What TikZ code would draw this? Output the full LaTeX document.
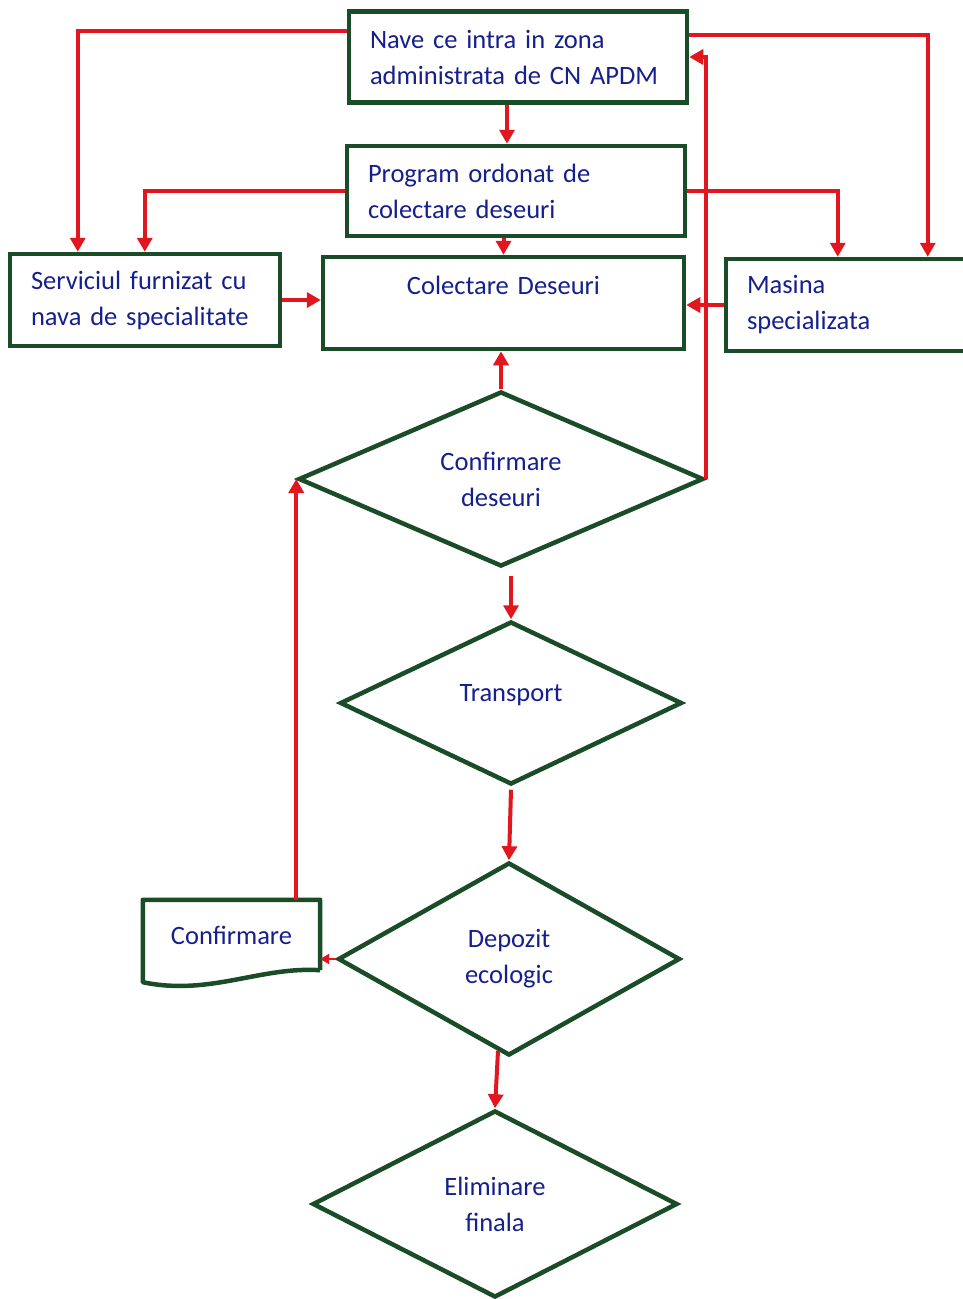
\documentclass[tikz,border=0pt]{standalone}
\usepackage{fontspec}
\setmainfont{Carlito}
\usetikzlibrary{shapes.geometric}
\usetikzlibrary{arrows.meta}
\usetikzlibrary{calc}

\definecolor{boxgreen}{RGB}{26,76,40}
\definecolor{arrowred}{RGB}{226,22,30}
\definecolor{textblue}{RGB}{22,32,140}

\begin{document}
\begin{tikzpicture}[x=1pt, y=-1pt, >={Triangle[length=14pt,width=15pt]},
  box/.style={rectangle, draw=boxgreen, line width=4.5pt, align=left, inner xsep=21pt,
    text=textblue, font=\fontsize{26.5}{36}\selectfont},
  dia/.style={diamond, draw=boxgreen, line width=4.5pt, aspect=2.3, inner sep=0pt,
    align=center, text=textblue, font=\fontsize{26.5}{36}\selectfont},
  doc/.style={rectangle, inner sep=0pt, text=textblue, font=\fontsize{26.5}{36}\selectfont},
  link/.style={draw=arrowred, line width=4pt, ->}]
\useasboundingbox[fill=white] (0,0) rectangle (963,1299);

%boxes
\node[box, text width=296pt, minimum height=91pt] (nave) at (518, 57)
  {Nave ce intra in zona\\administrata de CN APDM};
\node[box, text width=296pt, minimum height=90pt] (prog) at (516, 191)
  {Program ordonat de\\colectare deseuri};
\node[box, align=center, text width=319pt, minimum height=92pt] (colect) at (503.5, 303)
  {Colectare Deseuri\\\mbox{}};
\node[box, text width=228pt, minimum height=92pt] (serv) at (145, 300)
  {Serviciul furnizat cu\\nava de specialitate};
\node[box, text width=207pt, minimum height=92pt] (masina) at (850.5, 305)
  {Masina\\specializata};

%decisions
\node[dia, minimum width=405pt, minimum height=175pt] (cd) at (501, 479) {Confirmare\\deseuri};
\node[dia, minimum width=342pt, minimum height=163pt] (trans) at (511, 703)
  {\raisebox{2pt}[0pt][0pt]{Transport}};
\node[dia, minimum width=342pt, minimum height=193pt] (depo) at (509, 959) {Depozit\\ecologic};
\node[dia, minimum width=365pt, minimum height=187pt] (elim) at (495, 1204) {Eliminare\\finala};

%document
\node[doc, minimum width=177pt, minimum height=70pt] (conf) at (231.5, 935) {Confirmare};
\draw[boxgreen, line width=4.5pt, line join=round]
  (conf.south east) -- (conf.north east) -- (conf.north west) -- ($(conf.south west)+(0,12)$)
  .. controls ($(conf.south west)+(67,26)$) and ($(conf.south east)+(-60,-4)$) .. (conf.south east);

%links
\draw[link] ($(nave.west)+(0,-26)$) -| ($(serv.north west)+(70,0)$);
\draw[link] ($(nave.east)+(0,-22)$) -| ($(masina.north west)+(204,0)$);
\draw[link] ($(nave.south)+(-11,0)$) -- ($(prog.north)+(-9,0)$);
\draw[link] (prog.west) -| ($(serv.north west)+(137,0)$);
\draw[link] (prog.east) -| ($(masina.north west)+(114,0)$);
\draw[link] (prog.south -| colect.north) -- (colect.north);
\draw[link] (serv.east) -- (serv.east -| colect.west);
\draw[link] (masina.west) -- (masina.west -| colect.east);
\draw[link] (cd.north) -- (cd.north |- colect.south);
\draw[link] (cd.east) -- (cd.east |- nave.east) -- (nave.east);
\draw[link] ($(cd.south)+(10,7)$) -- (trans.north);
\draw[link] ($(trans.south)+(0,3)$) -- (depo.north);
\draw[link, >={Triangle[length=9pt,width=10pt]}, line width=2.5pt] (depo.west) -- (depo.west -| conf.east);
\draw[link] (cd.west |- conf.north) -- (cd.west);
\draw[link] ($(depo.south)+(-11,-7)$) -- (elim.north);
\end{tikzpicture}
\end{document}
